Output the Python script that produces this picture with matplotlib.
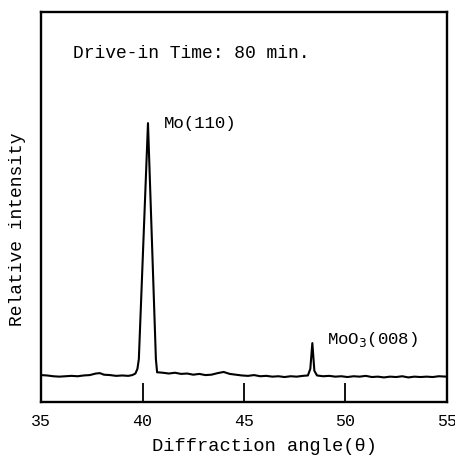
"""XRD pattern, drive-in time 80 min."""

import matplotlib
matplotlib.use("Agg")
import matplotlib.pyplot as plt

plt.rcParams["font.family"] = ["Liberation Mono", "DejaVu Sans Mono"]

# diffraction angle (theta) and relative intensity
angle = [35.0, 35.3, 35.6, 35.9, 36.2, 36.5, 36.8, 37.1, 37.4, 37.7, 37.9,
         38.1, 38.4, 38.7, 39.0, 39.3, 39.5, 39.65, 39.75, 39.82, 40.27,
         40.66, 40.72, 40.8, 41.0, 41.3, 41.6, 41.9, 42.2, 42.5, 42.8, 43.1,
         43.4, 43.7, 44.0, 44.3, 44.6, 44.9, 45.2, 45.5, 45.8, 46.1, 46.4,
         46.7, 47.0, 47.3, 47.6, 47.9, 48.15, 48.27, 48.37, 48.47, 48.6,
         48.9, 49.2, 49.5, 49.8, 50.1, 50.4, 50.7, 51.0, 51.3, 51.6, 51.9,
         52.2, 52.5, 52.8, 53.1, 53.4, 53.7, 54.0, 54.3, 54.6, 55.0]
intensity = [6.9, 6.8, 6.6, 6.5, 6.6, 6.7, 6.6, 6.8, 6.9, 7.3, 7.4,
             7.0, 6.9, 6.7, 6.8, 6.7, 6.9, 7.3, 8.5, 11.0, 71.5,
             11.0, 7.6, 7.6, 7.5, 7.3, 7.5, 7.2, 7.3, 7.0, 7.2, 6.9,
             7.0, 7.4, 7.7, 7.2, 7.0, 6.8, 6.7, 6.9, 6.6, 6.7, 6.5,
             6.6, 6.4, 6.6, 6.5, 6.7, 6.8, 8.5, 15.1, 8.0, 6.8,
             6.6, 6.7, 6.5, 6.6, 6.4, 6.6, 6.5, 6.7, 6.4, 6.5, 6.3,
             6.5, 6.4, 6.6, 6.3, 6.5, 6.4, 6.5, 6.4, 6.6, 6.5]

xticks = [35, 40, 45, 50, 55]
peak_labels = ["Mo(110)", "MoO$_3$(008)"]
peak_pos = [(41.05, 71.3), (49.1, 15.9)]

fig = plt.figure(figsize=(4.56, 4.61), dpi=100)
ax = fig.add_axes([0.090, 0.128, 0.890, 0.846])

ax.plot(angle, intensity, color="black", lw=1.5)
ax.set_xlim(35, 55)
ax.set_ylim(0, 100)

ax.set_xticks(xticks)
ax.set_xticklabels([str(t) for t in xticks], fontsize=12)
ax.tick_params(axis="x", direction="in", length=14, width=1.3, pad=9)
ax.set_yticks([])
for s in ax.spines.values():
    s.set_linewidth(1.7)

ax.text(0.078, 0.893, "Drive-in Time: 80 min.", transform=ax.transAxes,
        fontsize=13, va="center", ha="left")
for lab, (x, y) in zip(peak_labels, peak_pos):
    ax.text(x, y, lab, fontsize=12.5, va="center", ha="left")

fig.text(265 / 456, 1 - 446 / 461, "Diffraction angle(θ)", fontsize=13.5,
         ha="center", va="center")
fig.text(17.5 / 456, 1 - 229 / 461, "Relative intensity", fontsize=13,
         rotation=90, ha="center", va="center")

fig.savefig("out.png", dpi=100)
